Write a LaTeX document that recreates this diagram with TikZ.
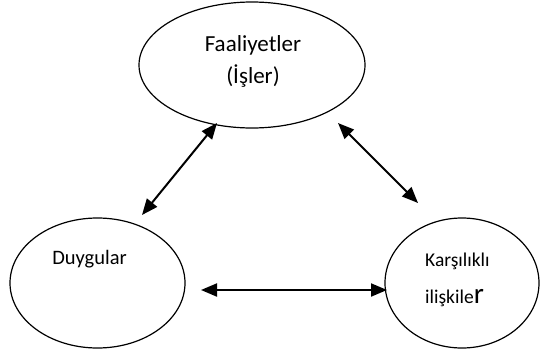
\documentclass[tikz,border=0pt]{standalone}
\usepackage{fontspec}
\setmainfont{Carlito}
\usetikzlibrary{shapes.geometric, arrows.meta}

\begin{document}
\begin{tikzpicture}[x=1pt, y=-1pt,
	bubble/.style={draw, ellipse, line width=1.2pt, inner sep=0pt},
	link/.style={{Triangle[length=16pt,width=13pt]}-{Triangle[length=16pt,width=13pt]}, line width=2pt}]
	\useasboundingbox (0,0) rectangle (541,351);
	
	\node[bubble, minimum width=226pt, minimum height=126pt] (act) at (252,65) {};
	
	\node[bubble, minimum width=175pt, minimum height=130pt] (feel) at (97.5,283) {};
	
	\node[bubble, minimum width=154pt, minimum height=130pt] (rel) at (462,283) {};
	
	\node[align=center, font=\fontsize{23}{32}\selectfont] (acttext) at (253,61) {Faaliyetler\\(İşler)};
	
	\node[anchor=base, font=\fontsize{20.5}{24}\selectfont] (feeltext) at (89.5,264) {Duygular};
	
	\node[align=left, anchor=west, inner sep=0pt, font=\fontsize{19.5}{37}\selectfont] (reltext) at (425,280) {Karşılıklı\\ilişkile{\fontsize{29}{37}\selectfont r}};
	
	\coordinate (a1) at (217,123);
	\coordinate (a2) at (142,215);
	\coordinate (b1) at (338,123);
	\coordinate (b2) at (418,203);
	\coordinate (c1) at (201,290);
	\coordinate (c2) at (387,290);
	
	\draw[link] (a1) -- (a2);
	
	\draw[link] (b1) -- (b2);
	
	\draw[link] (c1) -- (c2);
\end{tikzpicture}
\end{document}
